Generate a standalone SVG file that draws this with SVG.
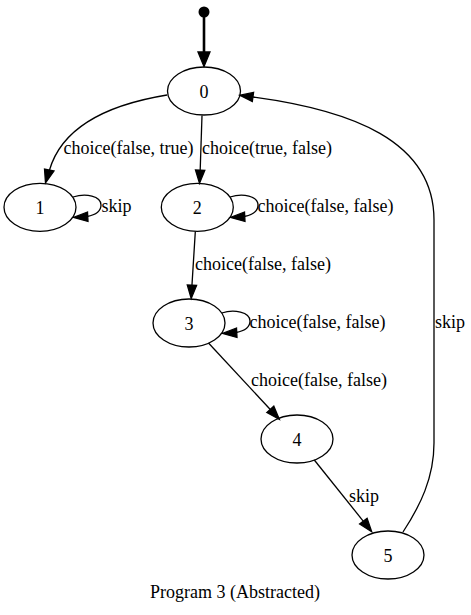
<svg xmlns="http://www.w3.org/2000/svg" width="471" height="615" viewBox="0 0 471 615">
<style>
.n ellipse{fill:none;stroke:#000;stroke-width:1.3}
text{font-family:"Liberation Serif","Times New Roman",serif;font-size:18px;fill:#000}
.n text{text-anchor:middle}
.e path{fill:none;stroke:#000;stroke-width:1.3}
.e .a{fill:#000;stroke:#000;stroke-width:1.3}
</style>
<rect width="471" height="615" fill="#fff"/>
<g id="start">
<circle cx="204" cy="12" r="5.5" fill="#000"/>
</g>
<g id="edges" class="e">
<path d="M204,17 L204,52" style="stroke-width:2.6"/>
<polygon class="a" points="198,52 204,66.5 210,52"/>
<path d="M167,95 C112,104 63,124 49.5,170"/>
<polygon class="a" points="44.5,169 45.5,183 54,171"/>
<path d="M202,115.5 L200.2,170"/>
<polygon class="a" points="195.5,170 199.5,183.3 204.8,170.3"/>
<path d="M73,197 C86,193 101,196 101,205 C101,212 95,215 87,216.5"/>
<polygon class="a" points="87.5,212 73.5,217.5 88,221.5"/>
<path d="M230,197 C243,193 258,196 258,205 C258,212 252,215 244,216.5"/>
<polygon class="a" points="244.5,212 230.5,217.5 245,221.5"/>
<path d="M195.3,231.5 L192,285"/>
<polygon class="a" points="187.3,285 191.2,298.5 196.6,285.4"/>
<path d="M221.7,313 C234,309 250,312 250,321 C250,328 244,331 236,332.5"/>
<polygon class="a" points="236.5,328 222.5,333.5 237,337.5"/>
<path d="M208.5,343 L270.3,409.5"/>
<polygon class="a" points="266.8,412.5 279.3,419.3 273.8,406.2"/>
<path d="M314.3,460 L363.4,521.3"/>
<polygon class="a" points="359.6,524 371.7,531.7 367.1,518.3"/>
<path d="M403,532 C420,506 434,478 434,443 L434,220 C434,140 350,110 253,97"/>
<polygon class="a" points="253.6,92.4 239.8,95.2 252.3,101.6"/>
<text x="63.5" y="153.5">choice(false, true)</text>
<text x="202" y="153.5">choice(true, false)</text>
<text x="101.5" y="212">skip</text>
<text x="257.5" y="212">choice(false, false)</text>
<text x="195" y="269.5">choice(false, false)</text>
<text x="249.5" y="328">choice(false, false)</text>
<text x="435" y="328">skip</text>
<text x="251" y="386">choice(false, false)</text>
<text x="349" y="501.5">skip</text>
</g>
<g id="node0" class="n"><ellipse cx="204" cy="91" rx="36.5" ry="24"/><text x="204" y="97.5">0</text></g>
<g id="node1" class="n"><ellipse cx="40" cy="207.3" rx="36" ry="24"/><text x="40" y="213.5">1</text></g>
<g id="node2" class="n"><ellipse cx="197.3" cy="207.3" rx="36" ry="24"/><text x="197.3" y="213.5">2</text></g>
<g id="node3" class="n"><ellipse cx="189" cy="323" rx="36" ry="24"/><text x="189" y="329.5">3</text></g>
<g id="node4" class="n"><ellipse cx="297" cy="439" rx="36" ry="24"/><text x="297" y="445.5">4</text></g>
<g id="node5" class="n"><ellipse cx="388" cy="555" rx="36" ry="24"/><text x="388" y="561.5">5</text></g>
<text x="235" y="598" text-anchor="middle">Program 3 (Abstracted)</text>
</svg>
